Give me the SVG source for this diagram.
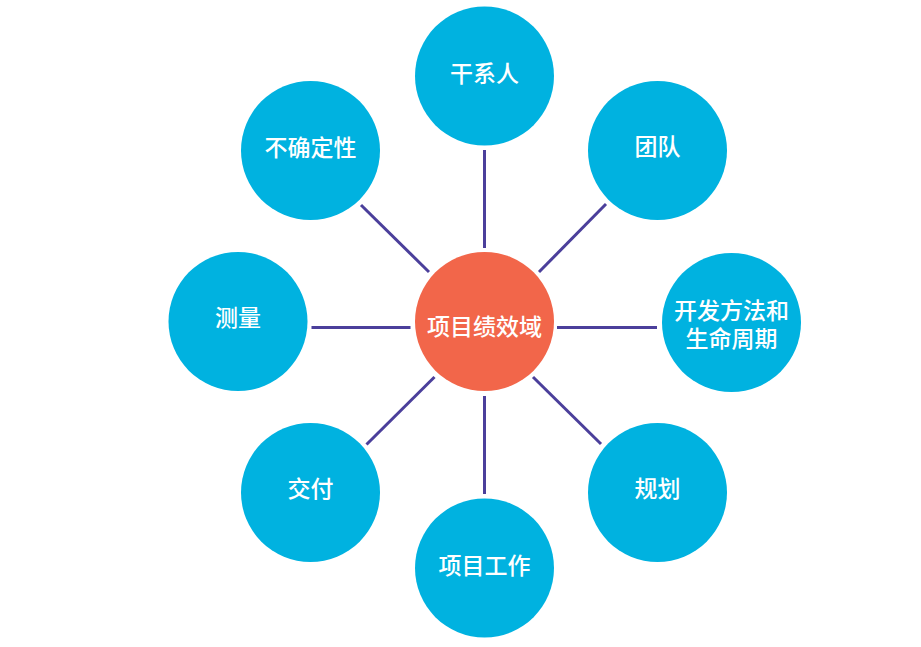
<svg xmlns="http://www.w3.org/2000/svg" width="921" height="647" viewBox="0 0 921 647">
<style>
.n{fill:#00b2e0}
.c{fill:#f2664a}
.t{fill:#fff;font-family:"Noto Sans CJK SC","Noto Sans",sans-serif;font-size:23px;font-weight:500;text-anchor:middle}
#connectors line{stroke:#4b3f9b;stroke-width:3}
</style>
<rect width="921" height="647" fill="#fff"/>
<g id="connectors">
<line x1="484.5" y1="150" x2="484.5" y2="248"/>
<line x1="606" y1="204" x2="539" y2="272"/>
<line x1="557" y1="327.5" x2="657" y2="327.5"/>
<line x1="533" y1="377" x2="601" y2="444"/>
<line x1="484.5" y1="396" x2="484.5" y2="494"/>
<line x1="434.5" y1="377" x2="366.5" y2="444.5"/>
<line x1="311.5" y1="327.5" x2="410.5" y2="327.5"/>
<line x1="361" y1="205" x2="429" y2="272"/>
</g>
<g id="center"><circle class="c" cx="484.5" cy="321.5" r="69.5"/><text class="t" x="484.5" y="335">项目绩效域</text></g>
<g id="stakeholders"><circle class="n" cx="484.5" cy="76" r="69.5"/><text class="t" x="484.5" y="82">干系人</text></g>
<g id="team"><circle class="n" cx="657.5" cy="150.5" r="69.5"/><text class="t" x="657.5" y="155">团队</text></g>
<g id="approach"><circle class="n" cx="731.5" cy="322.5" r="69.5"/><text class="t" x="731.5" y="319">开发方法和</text><text class="t" x="731.5" y="347">生命周期</text></g>
<g id="planning"><circle class="n" cx="657.5" cy="492.5" r="69.5"/><text class="t" x="657.5" y="497">规划</text></g>
<g id="work"><circle class="n" cx="484.5" cy="568" r="69.5"/><text class="t" x="484.5" y="574">项目工作</text></g>
<g id="delivery"><circle class="n" cx="310.5" cy="492.5" r="69.5"/><text class="t" x="310.5" y="497">交付</text></g>
<g id="measurement"><circle class="n" cx="238" cy="321.5" r="69.5"/><text class="t" x="238" y="326">测量</text></g>
<g id="uncertainty"><circle class="n" cx="310.5" cy="150.5" r="69.5"/><text class="t" x="310.5" y="155.5">不确定性</text></g>
</svg>
